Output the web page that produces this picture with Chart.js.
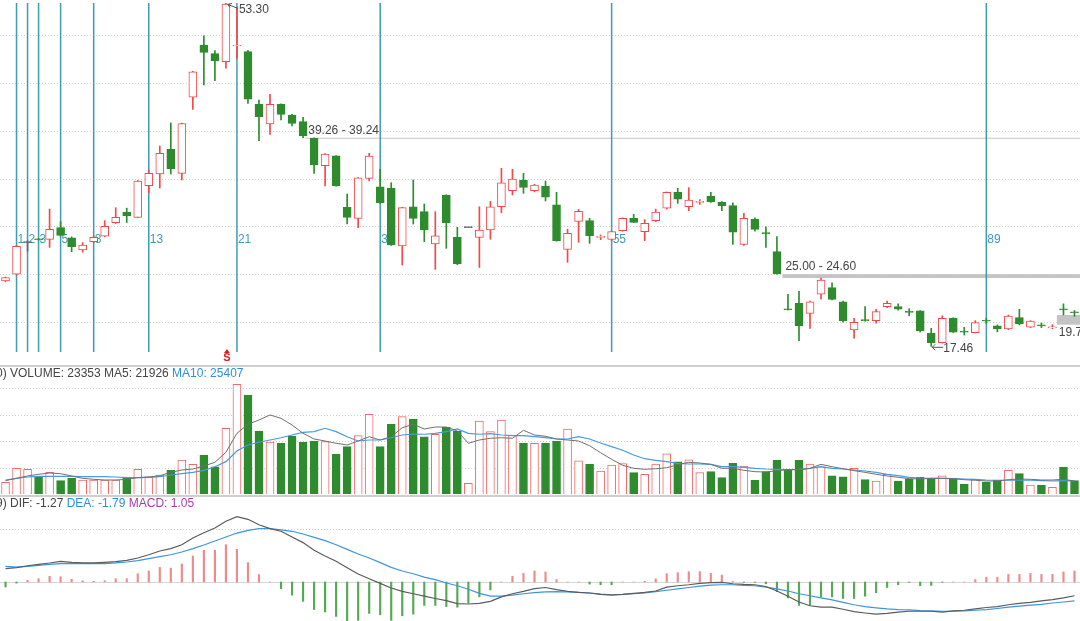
<!DOCTYPE html>
<html>
<head>
<meta charset="utf-8">
<script src="https://cdn.jsdelivr.net/npm/chart.js@4.4.1/dist/chart.umd.min.js"></script>
<style>
  html, body { margin: 0; padding: 0; background: #fff; overflow: hidden; }
  canvas { display: block; }
</style>
</head>
<body>
<canvas id="kline" width="1080" height="365"></canvas>
<canvas id="volume" width="1080" height="130"></canvas>
<canvas id="macd" width="1080" height="126"></canvas>
<script>
// daily candles
const opens = [24.30, 25.00, 28.30, 28.65, 28.64, 29.86, 28.81, 27.53, 28.40, 28.96,
  30.38, 31.50, 30.94, 34.25, 35.47, 38.05, 35.54, 43.49, 48.95, 48.05,
  47.21, 48.85, 48.26, 42.76, 40.70, 42.76, 41.64, 40.94, 39.20, 36.34,
  37.38, 31.99, 30.84, 35.02, 34.14, 33.98, 27.95, 32.05, 31.53, 28.15,
  33.28, 28.85, 29.86, 28.85, 29.62, 32.05, 33.73, 34.84, 33.73, 34.22,
  32.26, 27.60, 30.52, 30.59, 28.85, 28.64, 29.55, 30.84, 29.44, 30.59,
  31.89, 33.56, 32.05, 32.50, 33.17, 32.51, 32.16, 28.12, 30.77, 29.35,
  27.35, 21.30, 21.95, 20.91, 22.90, 23.59, 22.12, 19.17, 20.16, 20.14,
  21.60, 21.60, 21.10, 21.18, 18.82, 17.84, 20.39, 19.00, 18.88, 20.12,
  19.59, 19.27, 20.45, 19.45, 19.66, 19.38, 21.30, 21.00];
const highs = [24.70, 28.00, 28.50, 28.75, 31.80, 30.48, 28.90, 28.30, 29.00, 30.60,
  31.95, 31.90, 34.80, 35.90, 38.40, 40.80, 40.80, 46.20, 49.90, 48.36,
  53.30, 52.90, 48.40, 43.21, 43.80, 42.80, 41.70, 41.40, 39.24, 37.60,
  37.40, 33.38, 35.10, 37.63, 35.96, 34.56, 32.00, 34.84, 32.33, 31.53,
  33.30, 29.90, 29.86, 32.05, 32.60, 36.07, 35.96, 35.54, 34.40, 34.74,
  33.56, 29.70, 31.77, 30.84, 29.10, 29.50, 30.90, 31.26, 30.70, 31.80,
  33.60, 33.98, 34.04, 32.80, 33.56, 32.60, 32.47, 31.37, 30.90, 29.96,
  28.92, 22.90, 23.20, 22.20, 24.60, 24.10, 22.20, 20.39, 21.60, 21.33,
  22.20, 21.90, 21.40, 21.20, 19.34, 20.65, 20.45, 19.45, 20.14, 20.40,
  19.70, 20.73, 21.33, 20.14, 19.90, 19.72, 21.90, 21.20];
const lows = [24.20, 24.90, 27.40, 28.55, 27.80, 29.00, 27.35, 27.30, 28.30, 28.90,
  30.30, 30.40, 30.90, 33.50, 34.00, 35.47, 34.84, 42.23, 44.77, 45.22,
  46.52, 47.56, 42.86, 38.95, 39.60, 41.12, 40.50, 39.26, 35.54, 34.22,
  34.20, 30.24, 29.86, 34.74, 32.40, 28.00, 25.96, 30.24, 28.40, 25.50,
  27.70, 26.00, 29.86, 25.70, 28.65, 31.43, 33.28, 33.45, 33.60, 32.65,
  28.45, 26.24, 28.33, 28.22, 28.60, 28.50, 29.50, 30.40, 28.50, 30.50,
  31.80, 32.40, 31.64, 32.30, 32.50, 31.64, 28.12, 28.00, 29.50, 27.80,
  25.00, 21.26, 18.05, 19.34, 22.40, 22.30, 19.97, 18.30, 20.10, 19.87,
  21.50, 21.25, 20.65, 18.95, 17.46, 17.80, 18.90, 18.64, 18.85, 19.85,
  18.97, 19.20, 19.70, 19.40, 19.40, 19.30, 20.73, 20.60];
const closes = [24.65, 27.90, 28.30, 28.60, 29.70, 29.06, 27.87, 28.05, 28.85, 30.00,
  30.94, 31.08, 34.74, 35.54, 37.63, 35.99, 40.73, 46.16, 48.19, 47.28,
  53.24, 48.90, 43.28, 41.46, 42.76, 41.71, 40.77, 39.44, 36.41, 37.56,
  34.22, 30.94, 35.08, 37.35, 32.47, 28.05, 31.95, 30.84, 29.62, 29.02,
  30.38, 26.06, 29.86, 29.62, 32.05, 34.56, 34.95, 34.08, 34.32, 33.04,
  28.50, 29.27, 31.56, 29.02, 28.88, 29.44, 30.84, 30.42, 30.31, 31.50,
  33.56, 32.83, 32.75, 32.60, 32.58, 32.16, 29.38, 30.84, 29.69, 29.20,
  25.02, 21.26, 19.61, 22.12, 24.39, 22.37, 20.14, 19.97, 20.14, 21.08,
  21.95, 21.33, 21.00, 19.06, 17.84, 20.39, 18.93, 18.95, 19.93, 20.08,
  19.27, 20.63, 19.80, 20.10, 19.59, 19.45, 21.26, 20.97];

const volumes = [22100, 48500, 46600, 32600, 40900, 25100, 29600, 26400, 26400, 26400,
  26400, 29600, 46600, 32600, 35900, 44700, 64200, 56000, 73600, 51500,
  124000, 207000, 186800, 118900, 98100, 95700, 109400, 97600, 100000, 98700,
  74900, 89300, 110000, 150400, 89300, 131500, 145900, 141500, 108100, 112700,
  125900, 118900, 20200, 137800, 117600, 139600, 111300, 95700, 95700, 95700,
  100000, 122700, 62800, 56000, 43400, 54700, 57200, 40200, 37200, 56600,
  76000, 60900, 64700, 40200, 42100, 30800, 57900, 52800, 25900, 42100,
  63600, 45900, 63600, 56600, 51500, 34500, 32600, 48500, 27000, 24500,
  37200, 24500, 28300, 31500, 29600, 34500, 29600, 18900, 27700, 22100,
  26400, 44700, 38300, 17000, 17000, 12600, 51000, 25100];
const volMa5 = [25100, 29600, 34000, 37200, 39600, 38300, 34000, 29600, 27700, 26400,
  26400, 27700, 30800, 32100, 34500, 40900, 45300, 47200, 52800, 59800,
  78700, 114500, 131500, 139600, 149100, 142800, 130200, 114500, 103800, 100000,
  95700, 92500, 100000, 108100, 101900, 108100, 125100, 131500, 122700, 126400,
  126400, 118900, 95700, 101900, 105100, 106200, 105100, 120200, 111300, 108900,
  103800, 101900, 100000, 91100, 77900, 65500, 54200, 48500, 46600, 47700,
  49600, 55300, 59800, 58500, 56000, 48500, 48500, 44700, 42100, 41500,
  44000, 45900, 45900, 48500, 56000, 51500, 47700, 44000, 40900, 37200,
  34000, 31500, 28900, 28300, 29600, 29600, 28900, 27000, 25900, 24500,
  24500, 27000, 28300, 27700, 26400, 26400, 27700, 24500];
const volMa10 = [26400, 29600, 32100, 33400, 33400, 33400, 33400, 32600, 32600, 32600,
  32100, 30800, 30800, 31500, 32600, 35900, 38300, 40900, 44700, 51500,
  61000, 81100, 92500, 97600, 101900, 106200, 111300, 116400, 117600, 124000,
  117600, 108100, 100000, 101900, 101900, 106200, 111300, 113200, 112700, 114500,
  117600, 122700, 114500, 112700, 113800, 111300, 110000, 110000, 108100, 106200,
  103800, 103800, 108100, 103800, 96200, 89300, 82500, 73600, 66600, 63600,
  61000, 57900, 56600, 56600, 56000, 51500, 51500, 50400, 48500, 47200,
  46600, 45900, 46600, 48500, 51500, 48500, 47200, 45300, 43400, 40900,
  37200, 34500, 31500, 30200, 29600, 29600, 28900, 28300, 27700, 26400,
  25900, 25900, 25900, 25900, 25100, 24500, 25100, 24500];

const dif = [1.21, 1.30, 1.48, 1.61, 1.73, 1.88, 1.79, 1.73, 1.73, 1.79,
  1.85, 1.97, 2.18, 2.48, 2.82, 3.03, 3.39, 4.00, 4.48, 4.91,
  5.52, 5.94, 5.70, 5.21, 4.85, 4.61, 4.09, 3.58, 2.88, 2.36,
  1.88, 1.30, 0.73, 0.30, -0.12, -0.55, -0.85, -1.07, -1.29, -1.50,
  -1.69, -1.97, -2.00, -1.94, -1.76, -1.35, -1.07, -0.85, -0.60, -0.50,
  -0.69, -0.85, -0.94, -1.00, -1.13, -1.19, -1.13, -1.03, -0.94, -0.82,
  -0.47, -0.34, -0.25, -0.13, -0.06, -0.03, -0.16, -0.22, -0.25, -0.41,
  -0.82, -1.29, -1.82, -2.16, -2.29, -2.29, -2.48, -2.70, -2.82, -2.92,
  -2.85, -2.73, -2.66, -2.66, -2.66, -2.73, -2.63, -2.57, -2.45, -2.32,
  -2.23, -2.07, -1.94, -1.85, -1.72, -1.60, -1.44, -1.25];
const dea = [1.42, 1.36, 1.42, 1.52, 1.61, 1.67, 1.67, 1.67, 1.67, 1.67,
  1.73, 1.82, 1.94, 2.12, 2.30, 2.48, 2.73, 3.03, 3.36, 3.73,
  4.09, 4.45, 4.70, 4.85, 4.85, 4.73, 4.61, 4.36, 4.06, 3.76,
  3.39, 2.97, 2.55, 2.18, 1.76, 1.33, 1.00, 0.75, 0.44, 0.22,
  -0.09, -0.34, -0.66, -1.03, -1.29, -1.29, -1.19, -1.07, -0.97, -0.90,
  -0.88, -0.91, -0.94, -1.00, -1.10, -1.16, -1.13, -1.07, -1.00, -0.88,
  -0.75, -0.63, -0.50, -0.38, -0.28, -0.25, -0.25, -0.31, -0.34, -0.47,
  -0.63, -0.82, -1.07, -1.25, -1.44, -1.63, -1.85, -2.07, -2.23, -2.35,
  -2.45, -2.51, -2.54, -2.60, -2.63, -2.66, -2.66, -2.63, -2.57, -2.51,
  -2.41, -2.29, -2.19, -2.10, -2.04, -1.91, -1.82, -1.72];
const macdHist = [-0.45, -0.10, 0.15, 0.30, 0.52, 0.48, 0.24, 0.12, 0.06, 0.12,
  0.30, 0.30, 0.76, 1.00, 1.33, 1.27, 1.64, 2.36, 2.88, 2.88,
  3.39, 2.97, 1.76, 0.67, 0.00, -0.60, -1.20, -1.76, -2.50, -2.72,
  -3.13, -3.80, -3.48, -2.85, -2.98, -3.48, -3.07, -2.92, -2.13, -2.13,
  -2.23, -2.29, -1.91, -1.35, -0.72, 0.00, 0.53, 0.78, 1.00, 0.91,
  0.22, 0.00, 0.00, -0.19, -0.25, -0.25, 0.00, 0.00, 0.06, 0.28,
  0.75, 0.85, 0.94, 0.94, 0.78, 0.63, 0.05, -0.03, -0.03, -0.16,
  -0.88, -1.44, -2.13, -2.13, -1.35, -1.35, -1.50, -1.50, -1.29, -0.97,
  -0.50, -0.25, -0.03, -0.34, -0.31, -0.03, 0.00, 0.00, 0.22, 0.44,
  0.44, 0.69, 0.69, 0.78, 0.69, 0.69, 0.91, 1.00];

// annotations
const fibSteps = [1, 2, 3, 5, 8, 13, 21, 34, 55, 89];
const priceGrid = [20, 25, 30, 35, 40, 45, 50];
const volGrid = [50000, 100000, 150000, 200000];
const macdGrid = [4.8];
const gapFrom = [27.2, 70.5, 95.4];
const gapHigh = [39.26, 25.00, 20.73];
const gapLow = [39.24, 24.60, 19.72];
const gapText = ['39.26 - 39.24', '25.00 - 24.60', '19.72 - 20.73'];
const gapTextBelow = [false, false, true];

const RED = '#f24848', PINK = '#f06a6a', GREEN = '#2e8b2e', DOJI = '#666666';
const TEAL = '#3f9bb0';
const FONT = '12px "Liberation Sans", Arial, sans-serif';

const labels = opens.map((_, i) => i);
const dir = closes.map((c, i) => c > opens[i] ? 1 : (c < opens[i] ? -1 : 0));
const strokeCol = dir.map(d => d > 0 ? RED : (d < 0 ? GREEN : DOJI));

const base = {
  responsive: false,
  animation: false,
  events: [],
  layout: { padding: 0 },
  plugins: { legend: { display: false }, tooltip: { enabled: false } }
};

function hLine(ctx, y, w) {
  ctx.beginPath();
  ctx.moveTo(0, y);
  ctx.lineTo(w, y);
  ctx.stroke();
}

// ---------- price panel ----------
const klineDecor = {
  id: 'klineDecor',
  beforeDatasetsDraw(chart) {
    const { ctx, scales: { x, y } } = chart;
    ctx.save();
    ctx.strokeStyle = '#d0d0d0';
    ctx.lineWidth = 1;
    ctx.setLineDash([1, 2]);
    priceGrid.forEach(p => hLine(ctx, Math.round(y.getPixelForValue(p)) + 0.5, chart.width));
    ctx.setLineDash([]);

    // unfilled gaps
    ctx.font = FONT;
    gapFrom.forEach((f, k) => {
      const x0 = x.getPixelForValue(f);
      const yH = y.getPixelForValue(gapHigh[k]);
      const yL = y.getPixelForValue(gapLow[k]);
      ctx.fillStyle = '#c4c4c4';
      ctx.fillRect(x0, yH, chart.width - x0, Math.max(1, yL - yH));
      ctx.fillStyle = '#444';
      ctx.textBaseline = 'middle';
      ctx.textAlign = 'left';
      if (gapTextBelow[k]) ctx.fillText(gapText[k], x0 + 2, yL + 8);
      else ctx.fillText(gapText[k], x0 + 3, yH - 7);
    });

    // fibonacci time lines
    ctx.strokeStyle = TEAL;
    ctx.lineWidth = 1.5;
    ctx.fillStyle = TEAL;
    fibSteps.forEach(s => {
      const px = x.getPixelForValue(s);
      ctx.beginPath();
      ctx.moveTo(px, 3);
      ctx.lineTo(px, 352);
      ctx.stroke();
      ctx.fillText(String(s), px + 1, 240);
    });
    ctx.restore();
  },
  afterDatasetsDraw(chart) {
    const { ctx, scales: { x, y } } = chart;
    ctx.save();
    ctx.font = FONT;
    ctx.textBaseline = 'middle';
    ctx.textAlign = 'left';
    ctx.strokeStyle = '#555';
    ctx.fillStyle = '#444';
    ctx.lineWidth = 1;

    // highest high
    const hi = highs.indexOf(Math.max(...highs));
    const hx = x.getPixelForValue(hi), hy = y.getPixelForValue(highs[hi]);
    ctx.beginPath();
    ctx.moveTo(hx + 12, hy + 5);
    ctx.lineTo(hx + 2, hy + 1);
    ctx.moveTo(hx + 2, hy + 1);
    ctx.lineTo(hx + 6, hy);
    ctx.moveTo(hx + 2, hy + 1);
    ctx.lineTo(hx + 4, hy + 4);
    ctx.stroke();
    ctx.fillText(highs[hi].toFixed(2), hx + 13, hy + 6);

    // lowest low
    const lo = lows.indexOf(Math.min(...lows));
    const lx = x.getPixelForValue(lo), ly = y.getPixelForValue(lows[lo]);
    ctx.beginPath();
    ctx.moveTo(lx + 1, ly + 1);
    ctx.lineTo(lx + 12, ly + 1);
    ctx.moveTo(lx + 1, ly + 1);
    ctx.lineTo(lx + 4, ly - 2);
    ctx.moveTo(lx + 1, ly + 1);
    ctx.lineTo(lx + 4, ly + 4);
    ctx.stroke();
    ctx.fillText(lows[lo].toFixed(2), lx + 12, ly + 2);

    // sell mark under the top bar
    ctx.fillStyle = '#e02020';
    ctx.font = 'bold 11px "Liberation Sans", Arial, sans-serif';
    ctx.textAlign = 'center';
    ctx.fillText('S', hx + 1, 358);
    ctx.beginPath();
    ctx.moveTo(hx + 1, 349);
    ctx.lineTo(hx - 2, 353);
    ctx.lineTo(hx + 4, 353);
    ctx.closePath();
    ctx.fill();
    ctx.restore();
  }
};

new Chart(document.getElementById('kline'), {
  type: 'bar',
  data: {
    labels,
    datasets: [
      {
        label: 'wick',
        data: lows.map((l, i) => [l, highs[i]]),
        backgroundColor: strokeCol,
        barThickness: 1,
        grouped: false,
        order: 2
      },
      {
        label: 'body',
        data: opens.map((o, i) => [o, closes[i]]),
        backgroundColor: dir.map(d => d > 0 ? '#ffffff' : (d < 0 ? GREEN : DOJI)),
        borderColor: strokeCol,
        borderWidth: 1,
        borderSkipped: false,
        barThickness: 8,
        minBarLength: 1,
        grouped: false,
        order: 1
      }
    ]
  },
  options: {
    ...base,
    scales: {
      x: { display: false, offset: true },
      y: { display: false, min: 15.506, max: 53.658 }
    }
  },
  plugins: [klineDecor]
});

// ---------- lower panels ----------
function panelDecor(id, grid, parts, zeroLine) {
  return {
    id,
    beforeDatasetsDraw(chart) {
      const { ctx, scales: { y } } = chart;
      ctx.save();
      ctx.strokeStyle = '#d0d0d0';
      ctx.lineWidth = 1;
      ctx.setLineDash([1, 2]);
      grid.forEach(v => hLine(ctx, Math.round(y.getPixelForValue(v)) + 0.5, chart.width));
      ctx.setLineDash([]);
      if (zeroLine) {
        ctx.strokeStyle = '#d6d6d6';
        hLine(ctx, Math.round(y.getPixelForValue(0)) + 0.5, chart.width);
      }
      // panel separator
      ctx.strokeStyle = '#cfcfcf';
      ctx.lineWidth = 2;
      hLine(ctx, 1, chart.width);
      ctx.restore();
    },
    afterDatasetsDraw(chart) {
      const { ctx } = chart;
      ctx.save();
      ctx.font = FONT;
      ctx.textBaseline = 'middle';
      ctx.textAlign = 'left';
      let tx = -4;
      parts.forEach(([t, c]) => {
        ctx.fillStyle = c;
        ctx.fillText(t, tx, 9);
        tx += ctx.measureText(t).width;
      });
      ctx.restore();
    }
  };
}

new Chart(document.getElementById('volume'), {
  type: 'bar',
  data: {
    labels,
    datasets: [
      {
        type: 'line',
        data: volMa5,
        borderColor: '#707070',
        borderWidth: 1,
        pointRadius: 0,
        order: 0
      },
      {
        type: 'line',
        data: volMa10,
        borderColor: '#4a9ae0',
        borderWidth: 1.2,
        pointRadius: 0,
        order: 0
      },
      {
        data: volumes,
        backgroundColor: dir.map(d => d < 0 ? GREEN : '#ffffff'),
        borderColor: dir.map(d => d < 0 ? GREEN : PINK),
        borderWidth: 1,
        borderSkipped: 'bottom',
        barThickness: 8,
        order: 1
      }
    ]
  },
  options: {
    ...base,
    scales: {
      x: { display: false, offset: true },
      y: { display: false, min: -1887, max: 243400 }
    }
  },
  plugins: [panelDecor('volDecor', volGrid, [
    ['0) VOLUME: 23353 MA5: 21926 ', '#444'],
    ['MA10: 25407', '#2f8fdd']
  ], false)]
});

new Chart(document.getElementById('macd'), {
  type: 'bar',
  data: {
    labels,
    datasets: [
      {
        type: 'line',
        data: dif,
        borderColor: '#5c5c5c',
        borderWidth: 1.2,
        pointRadius: 0,
        order: 0
      },
      {
        type: 'line',
        data: dea,
        borderColor: '#3d95e0',
        borderWidth: 1.2,
        pointRadius: 0,
        order: 0
      },
      {
        data: macdHist,
        backgroundColor: macdHist.map(v => v >= 0 ? '#f08a8a' : '#55a955'),
        barThickness: 1.5,
        order: 1
      }
    ]
  },
  options: {
    ...base,
    scales: {
      x: { display: false, offset: true },
      y: { display: false, min: -3.545, max: 7.909 }
    }
  },
  plugins: [panelDecor('macdDecor', macdGrid, [
    ['9) DIF: -1.27 ', '#444'],
    ['DEA: -1.79 ', '#2f8fdd'],
    ['MACD: 1.05', '#a83bb0']
  ], true)]
});
</script>
</body>
</html>
